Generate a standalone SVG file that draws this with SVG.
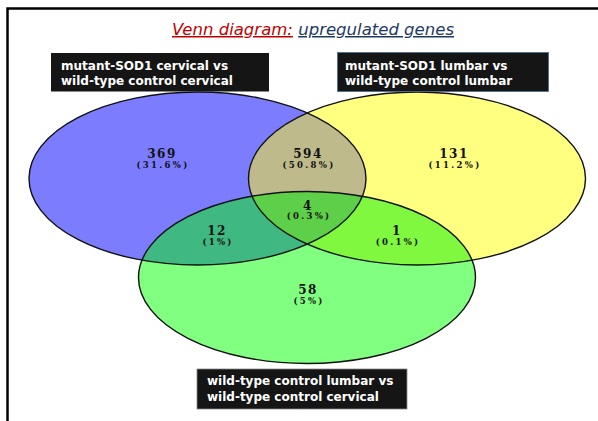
<svg xmlns="http://www.w3.org/2000/svg" width="598" height="421" viewBox="0 0 598 421">
  <defs>
    <clipPath id="cB"><ellipse cx="197.5" cy="178.5" rx="168.5" ry="86.5"/></clipPath>
    <clipPath id="cY"><ellipse cx="417" cy="178.5" rx="168.5" ry="86.5"/></clipPath>
    <style>
      .outline { fill: none; stroke: #111; stroke-width: 1.4; }
      .num { font-family: "DejaVu Serif", "Liberation Serif", serif; font-weight: bold; font-size: 12px; letter-spacing: 1.5px; fill: #111; text-anchor: middle; }
      .pct { font-family: "DejaVu Serif", "Liberation Serif", serif; font-weight: bold; font-size: 8.5px; letter-spacing: 2.3px; fill: #111; text-anchor: middle; }
      .box { fill: #151515; }
      .lbl { font-family: "DejaVu Sans", Verdana, sans-serif; font-weight: bold; font-size: 12px; fill: #ffffff; }
    </style>
  </defs>
  <rect x="0" y="0" width="598" height="421" fill="#ffffff"/>
  <g id="frame" fill="none" stroke="#000" stroke-width="2.5">
    <path d="M7.5 421 V8.5 H598"/>
  </g>
  <g id="title">
    <text x="313" y="35" font-family="DejaVu Sans, Verdana, sans-serif" font-style="italic" font-size="15" text-anchor="middle" textLength="282" lengthAdjust="spacingAndGlyphs"><tspan fill="#c00000" text-decoration="underline">Venn diagram:</tspan><tspan fill="#1f3864"> </tspan><tspan fill="#1f3864" text-decoration="underline">upregulated genes</tspan></text>
  </g>
  <g id="regions">
    <ellipse cx="197.5" cy="178.5" rx="168.5" ry="86.5" fill="#7c7cff"/>
    <ellipse cx="417" cy="178.5" rx="168.5" ry="86.5" fill="#ffff80"/>
    <g clip-path="url(#cB)"><ellipse cx="417" cy="178.5" rx="168.5" ry="86.5" fill="#bfba8c"/></g>
    <ellipse cx="307" cy="277.5" rx="168.5" ry="86" fill="#80ff80"/>
    <g clip-path="url(#cB)"><ellipse cx="307" cy="277.5" rx="168.5" ry="86" fill="#40b882"/></g>
    <g clip-path="url(#cY)"><ellipse cx="307" cy="277.5" rx="168.5" ry="86" fill="#80f840"/></g>
    <g clip-path="url(#cB)"><g clip-path="url(#cY)"><ellipse cx="307" cy="277.5" rx="168.5" ry="86" fill="#5ecf48"/></g></g>
  </g>
  <g id="set-cervical"><ellipse class="outline" cx="197.5" cy="178.5" rx="168.5" ry="86.5"/></g>
  <g id="set-lumbar"><ellipse class="outline" cx="417" cy="178.5" rx="168.5" ry="86.5"/></g>
  <g id="set-control"><ellipse class="outline" cx="307" cy="277.5" rx="168.5" ry="86"/></g>
  <g id="counts">
    <text class="num" x="162" y="157.5">369</text>
    <text class="pct" x="163" y="168">(31.6%)</text>
    <text class="num" x="308" y="157.5">594</text>
    <text class="pct" x="309" y="168">(50.8%)</text>
    <text class="num" x="454" y="157.5">131</text>
    <text class="pct" x="455" y="168">(11.2%)</text>
    <text class="num" x="308" y="209.5">4</text>
    <text class="pct" x="309" y="219">(0.3%)</text>
    <text class="num" x="217" y="234.5">12</text>
    <text class="pct" x="218" y="244.5">(1%)</text>
    <text class="num" x="397" y="234.5">1</text>
    <text class="pct" x="398" y="244.5">(0.1%)</text>
    <text class="num" x="308" y="293.5">58</text>
    <text class="pct" x="309" y="304">(5%)</text>
  </g>
  <g id="label-cervical">
    <rect class="box" x="51" y="53" width="218" height="38.5"/>
    <text class="lbl" x="61" y="69.5">mutant-SOD1 cervical vs</text>
    <text class="lbl" x="61" y="84.5">wild-type control cervical</text>
  </g>
  <g id="label-lumbar">
    <rect class="box" x="337.5" y="52.5" width="211" height="39" stroke="#4a6a90" stroke-width="0.8"/>
    <text class="lbl" x="345" y="69.5">mutant-SOD1 lumbar vs</text>
    <text class="lbl" x="345" y="84.5">wild-type control lumbar</text>
  </g>
  <g id="label-control">
    <rect class="box" x="197" y="369" width="210" height="40" stroke="#888" stroke-width="0.8"/>
    <text class="lbl" x="207" y="385">wild-type control lumbar vs</text>
    <text class="lbl" x="207" y="401">wild-type control cervical</text>
  </g>
</svg>
